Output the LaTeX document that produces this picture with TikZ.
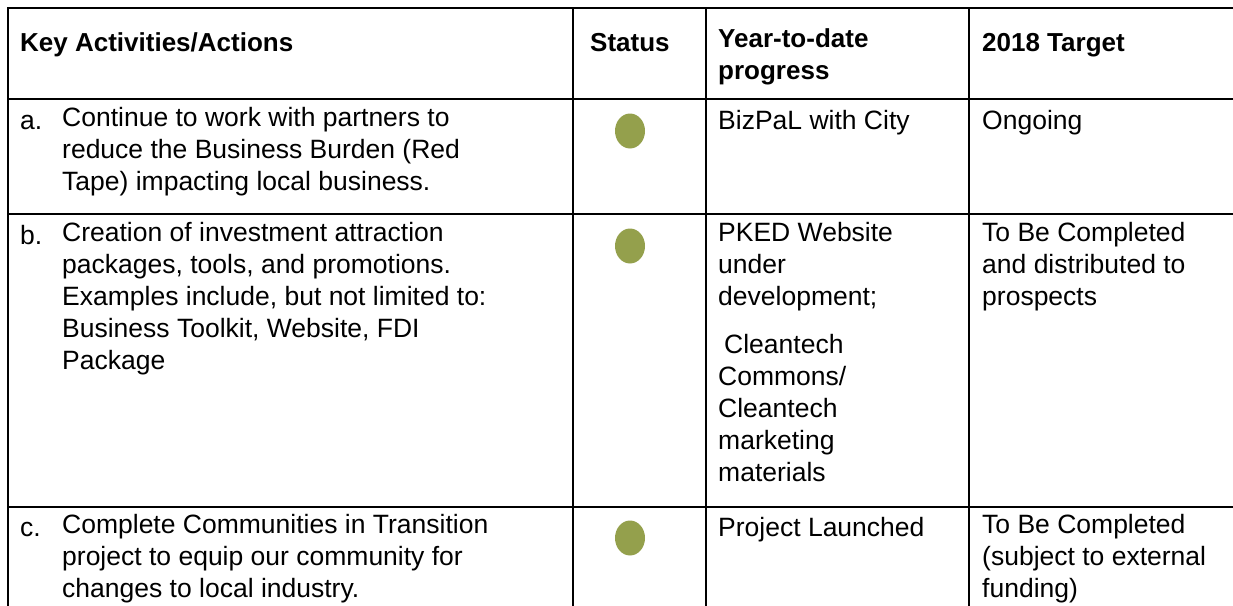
\documentclass[tikz,border=0pt]{standalone}
\usepackage{fontspec}
\setmainfont{Liberation Sans}
\usetikzlibrary{positioning,shapes.geometric}
\definecolor{statusgreen}{RGB}{148,160,76}

\begin{document}
\begin{tikzpicture}[x=1pt,y=-1pt,
  cell/.style={anchor=north west,yshift=22.4pt,inner sep=0pt,align=left,
    font=\fontsize{26.5}{32}\selectfont,execute at begin node=\strut},
  head/.style={cell,font=\fontsize{26}{32}\selectfont\bfseries},
  rule/.style={line width=1.8pt,black},
  dot/.style={ellipse,fill=statusgreen,inner sep=0pt,minimum width=30pt,minimum height=35pt}]
\useasboundingbox (0,0) rectangle (1233,605);
% table rules
\draw[rule] (1240,8) -- (8,8) -- (8,610);
\foreach \y in {99,214,507}
  \draw[rule] (8,\y) -- (1240,\y);
\foreach \x in {573,706,969}
  \draw[rule] (\x,8) -- (\x,610);
% header
\node[head] (hact) at (20,51) {Key Activities/Actions};
\node[head] (hstat) at (590,51) {Status};
\node[head] (hprog) at (718,51) {Year-to-date\\progress};
\node[head] (htarg) at (982,51) {2018 Target};
% row a
\node[cell] (la) at (20,129) {a.};
\node[cell] (acta) at (62,129) {Continue to work with partners to\\reduce the Business Burden (Red\\Tape) impacting local business.};
\node[dot] (sta) at (630,131) {};
\node[cell] (proga) at (718,129) {BizPaL with City};
\node[cell] (targa) at (982,129) {Ongoing};
% row b
\node[cell] (lb) at (20,244) {b.};
\node[cell] (actb) at (62,244) {Creation of investment attraction\\packages, tools, and promotions.\\Examples include, but not limited to:\\Business Toolkit, Website, FDI\\Package};
\node[dot] (stb) at (630,246) {};
\node[cell] (progb) at (718,244) {PKED Website\\under\\development;\\[16pt] \hspace{6pt}Cleantech\\Commons/\\Cleantech\\marketing\\materials};
\node[cell] (targb) at (982,244) {To Be Completed\\and distributed to\\prospects};
% row c
\node[cell] (lc) at (20,536) {c.};
\node[cell] (actc) at (62,536) {Complete Communities in Transition\\project to equip our community for\\changes to local industry.};
\node[dot] (stc) at (630,538) {};
\node[cell] (progc) at (718,536) {Project Launched};
\node[cell] (targc) at (982,536) {To Be Completed\\(subject to external\\funding)};
\end{tikzpicture}
\end{document}
